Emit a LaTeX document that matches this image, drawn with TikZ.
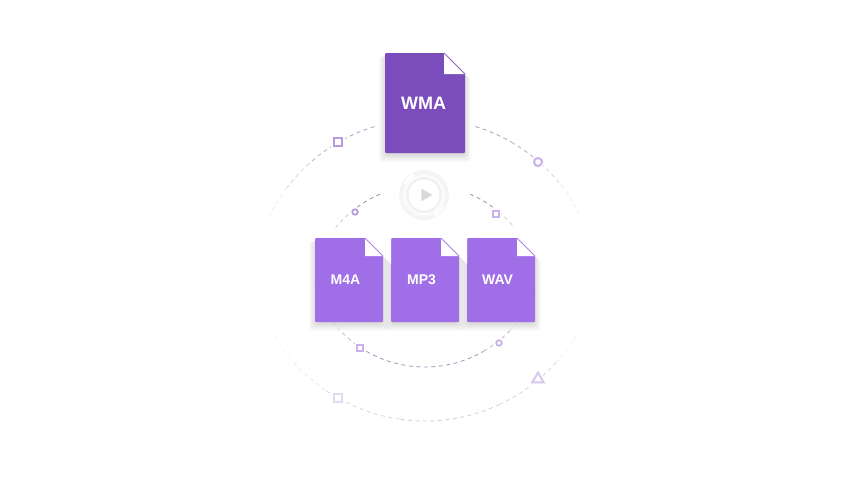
\documentclass[tikz,border=0pt]{standalone}
\usepackage{fontspec}
\setmainfont{Liberation Sans}
\usetikzlibrary{shapes.geometric,arrows.meta,calc,positioning,backgrounds}
\definecolor{darkfile}{HTML}{7B4CBB}
\definecolor{lightfile}{HTML}{A06EE6}
\definecolor{trackgrey}{HTML}{8F84A8}
\definecolor{markA}{HTML}{B59AE0}
\definecolor{markB}{HTML}{C9B2EA}
\definecolor{markC}{HTML}{D6C8EE}
\definecolor{markD}{HTML}{E2DAF0}
\tikzset{
  filebox/.style={rectangle, rounded corners=1pt, fill=#1, text=white, inner sep=0pt, outer sep=0pt},
  bigfile/.style={filebox=darkfile, minimum width=80pt, minimum height=100pt, font=\fontsize{18}{20}\bfseries, execute at end node=\hspace{3pt}},
  smallfile/.style={filebox=lightfile, minimum width=68pt, minimum height=84pt, font=\fontsize{14}{16}\bfseries, execute at end node=\hspace{7pt}},
  track/.style={line width=.85pt, draw=trackgrey, dash pattern=on 4pt off 3.5pt},
  halo/.style={preaction={draw=white, line width=5pt}},
  squaremark/.style={rectangle, draw=#1, halo, fill=white, inner sep=0pt},
  circlemark/.style={circle, draw=#1, halo, fill=white, inner sep=0pt},
  trianglemark/.style={regular polygon, regular polygon sides=3, draw=#1, halo, fill=white, inner sep=0pt}
}
\begin{document}
\begin{tikzpicture}[x=1pt, y=-1pt]
  \useasboundingbox (0,0) rectangle (856,482);
  \coordinate (outertop) at (425,292);
  \coordinate (outerbot) at (425,245);
  \coordinate (innertop) at (425,300);
  \coordinate (innerbot) at (425,250);
  % outer tracks
  \foreach \from/\to/\fade in {107/122/.75, 122/132/.6, 132/143/.35, 143/154/.15,
                               73/60/.75, 60/48/.6, 48/38/.35, 38/27/.15}
    \draw[track, opacity=\fade] ($(outertop)+(\from:173pt)$) arc[start angle=\from, end angle=\to, radius=173pt];
  \foreach \from/\to/\fade in {209/222/.08, 222/236/.18, 236/262/.33, 262/295/.38, 295/318/.33, 318/331/.1}
    \draw[track, opacity=\fade] ($(outerbot)+(\from:176pt)$) arc[start angle=\from, end angle=\to, radius=176pt];
  % inner tracks
  \foreach \from/\to/\fade in {113/128/.85, 128/141/.4,
                               67/50/.85, 50/40/.4}
    \draw[track, opacity=\fade] ($(innertop)+(\from:115pt)$) arc[start angle=\from, end angle=\to, radius=115pt];
  \foreach \from/\to/\fade in {197/214/.1, 214/225/.2, 225/240/.55, 240/300/.8, 300/317/.55, 317/343/.12}
    \draw[track, opacity=\fade] ($(innerbot)+(\from:117pt)$) arc[start angle=\from, end angle=\to, radius=117pt];
  % markers
  \node[squaremark=markA, line width=2pt, minimum size=8.5pt] (sqa) at (338,142) {};
  \node[circlemark=markB, line width=2pt, minimum size=8pt] (cia) at (538,162) {};
  \node[trianglemark=markC, line width=2pt, minimum size=13pt] (tri) at (538,379) {};
  \node[squaremark=markD, line width=1.8pt, minimum size=8.5pt] (sqb) at (338,398) {};
  \node[circlemark=markA, line width=1.8pt, minimum size=5.5pt] (cib) at (355,212) {};
  \node[squaremark=markB, line width=1.8pt, minimum size=5.5pt] (sqc) at (496,214) {};
  \node[squaremark=markB, line width=1.8pt, minimum size=5.5pt] (sqd) at (360,348) {};
  \node[circlemark=markB, line width=1.8pt, minimum size=5.5pt] (cic) at (499,343) {};
  % files
  \node[bigfile] (wma) at (425,103) {WMA};
  \node[smallfile] (m4a) at (349,280) {M4A};
  \node[smallfile, right=8pt of m4a] (mp3) {MP3};
  \node[smallfile, right=8pt of mp3] (wav) {WAV};
  \begin{scope}[on background layer]
    \fill[white] (0,0) rectangle (856,482);
    \foreach \file in {wma,m4a,mp3,wav}
      \foreach \k in {1,...,10}
        \fill[black, opacity=.017, rounded corners=3pt]
          ($(\file.north west)+(2-.8*\k,3)$) rectangle ($(\file.south east)+(.8*\k-2,.9*\k)$);
  \end{scope}
  \foreach \file/\fold/\shade in {wma/21/darkfile, m4a/18/lightfile, mp3/18/lightfile, wav/18/lightfile} {
    \fill[white] ($(\file.north east)+(-\fold,-3)$) -- ($(\file.north east)+(8,-3)$) -- ($(\file.north east)+(8,\fold+8)$) -- ($(\file.north east)+(0,\fold)$) -- ($(\file.north east)+(-\fold,\fold)$) -- cycle;
    \draw[\shade!85, line width=1pt] ($(\file.north east)+(-\fold,0)$) -- ($(\file.north east)+(0,\fold)$);
  }
  % play button
  \node[circle, fill=black!4, minimum size=50pt, inner sep=0pt] (ring) at (424,195) {};
  \node[circle, fill=black!1, minimum size=41pt, inner sep=0pt] (gap) at (ring) {};
  \node[circle, fill=black!6, minimum size=36pt, inner sep=0pt] (rim) at (ring) {};
  \node[circle, fill=white, minimum size=31pt, inner sep=0pt] (disc) at (ring) {};
  \node[regular polygon, regular polygon sides=3, shape border rotate=-90, fill=black!15, minimum size=15pt, inner sep=0pt] (play) at (425,195) {};
  \draw[white, line width=2.5pt, -{Stealth[length=5pt,width=7pt]}] ($(ring)+(150:22.5pt)$) arc[start angle=150, end angle=115, radius=22.5pt];
  \draw[white, line width=2.5pt, -{Stealth[length=5pt,width=7pt]}] ($(ring)+(-30:22.5pt)$) arc[start angle=-30, end angle=-65, radius=22.5pt];
\end{tikzpicture}
\end{document}
